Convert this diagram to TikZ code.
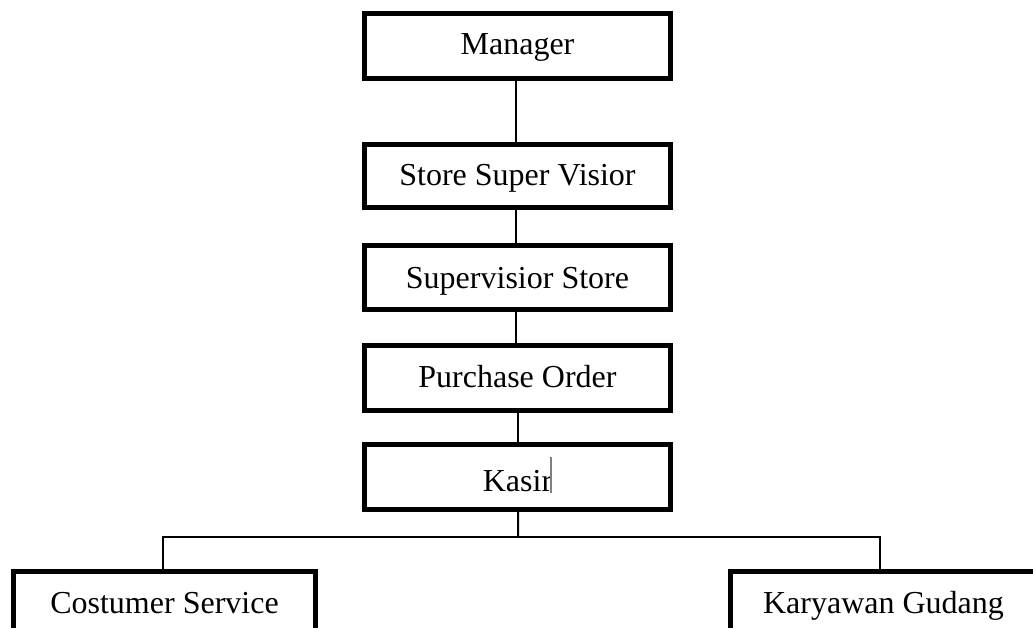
\documentclass[tikz,border=0pt]{standalone}
\usepackage{fontspec}
\setmainfont{Liberation Serif}
\begin{document}
\begin{tikzpicture}[x=0.75pt,y=-0.75pt,
  box/.style={draw=black, line width=3.75pt, fill=white, minimum width=229.5pt,
    minimum height=48.75pt, inner xsep=0pt, inner ysep=0pt, outer sep=0pt,
    text depth=0pt, text height=13.5pt, font=\fontsize{24pt}{28pt}\selectfont},
  conn/.style={line width=1.5pt, draw=black},
  cursor/.style={line width=1.4pt, draw=black!50}]
\useasboundingbox (0,0) rectangle (1033,628);
\node[box] (m) at (517.5,46) {Manager};
\node[box, minimum height=47.25pt] (ssv) at (517.5,176) {Store Super Visior};
\node[box, minimum height=48pt, text height=15.75pt] (ss) at (517.5,277.5) {Supervisior Store};
\node[box, text height=14.55pt] (po) at (517.5,378) {Purchase Order};
\node[box, text height=22.05pt] (k) at (517.5,477) {Kasir};
\node[box, minimum width=226.5pt] (cs) at (164.5,604) {Costumer Service};
\node[box] (kg) at (883.5,604) {Karyawan Gudang};
\coordinate (bus) at (518,537);
\draw[conn] ([xshift=-1.2pt]m.south) -- ([xshift=-1.2pt]ssv.north);
\draw[conn] ([xshift=-0.8pt]ssv.south) -- ([xshift=-0.8pt]ss.north);
\draw[conn] ([xshift=-0.8pt]ss.south) -- ([xshift=-0.8pt]po.north);
\draw[conn] ([xshift=0.4pt]po.south) -- ([xshift=0.4pt]k.north);
\draw[conn] ([xshift=0.4pt]k.south) -- (bus);
\draw[conn] ([xshift=-1.4pt]cs.north) |- (bus) -| ([xshift=-2.6pt]kg.north);
\draw[cursor] ([xshift=25.2pt,yshift=15pt]k.center) -- ([xshift=25.2pt,yshift=-12pt]k.center);
\end{tikzpicture}
\end{document}
